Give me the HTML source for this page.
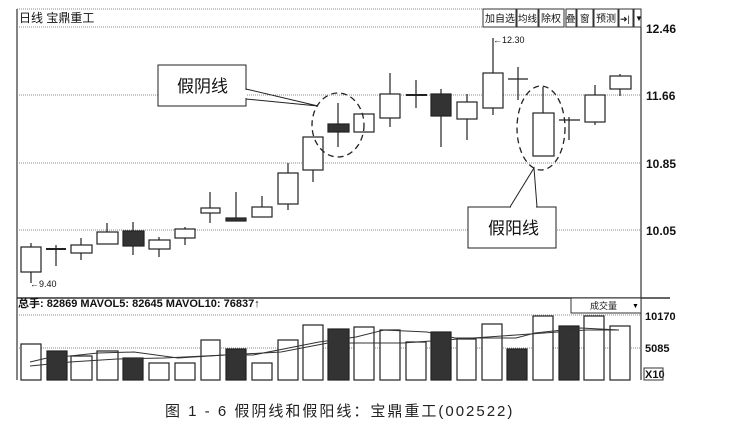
<!DOCTYPE html>
<html><head><meta charset="utf-8"><style>
body{margin:0;background:#fff;}
svg{display:block;font-family:"Liberation Sans","Noto Sans CJK SC",sans-serif;}
</style></head><body>
<svg width="735" height="433" viewBox="0 0 735 433" xmlns="http://www.w3.org/2000/svg">
<!-- frame -->
<g stroke="#333" fill="none">
<line x1="17" y1="9" x2="17" y2="380" stroke-width="1.2"/>
<line x1="641" y1="27" x2="641" y2="380" stroke-width="1.2"/>
<line x1="17" y1="298" x2="670" y2="298" stroke-width="1.5"/>
</g>
<g stroke="#888" stroke-dasharray="1,1" stroke-width="1">
<line x1="17" y1="9" x2="483" y2="9"/>
<line x1="17" y1="27" x2="641" y2="27"/>
<line x1="17" y1="95" x2="641" y2="95"/>
<line x1="17" y1="163" x2="641" y2="163"/>
<line x1="17" y1="230" x2="641" y2="230"/>
<line x1="17" y1="315" x2="641" y2="315"/>
<line x1="17" y1="348" x2="641" y2="348"/>
</g>
<text x="19" y="22" font-size="12" fill="#111">日线  宝鼎重工</text>
<!-- toolbar -->
<g stroke="#333" fill="#fff" stroke-width="1">
<rect x="483" y="9" width="33" height="18"/><rect x="517" y="9" width="21" height="18"/>
<rect x="539" y="9" width="25" height="18"/><rect x="566" y="9" width="10" height="18"/>
<rect x="577" y="9" width="16" height="18"/><rect x="594" y="9" width="24" height="18"/>
<rect x="619" y="9" width="14" height="18"/><rect x="634" y="9" width="7" height="18"/>
</g>
<g font-size="10" fill="#111">
<text x="485" y="22">加自选</text><text x="518" y="22" font-size="9.5">均线</text>
<text x="541" y="22">除权</text><text x="566" y="22" font-size="9.5">叠</text>
<text x="580" y="22" font-size="9.5">窗</text><text x="596" y="22">预测</text>
<text x="620" y="22" font-size="9">➜|</text><text x="635" y="21" font-size="8">▼</text>
</g>
<g font-size="12" font-weight="bold" fill="#111">
<text x="646" y="33">12.46</text><text x="646" y="100">11.66</text>
<text x="646" y="168">10.85</text><text x="646" y="235">10.05</text>
</g>
<!-- candles -->
<g stroke="#222" stroke-width="1.2" fill="#fff">
<line x1="31" y1="243" x2="31" y2="283"/><rect x="21" y="247" width="20" height="25"/>
<line x1="56" y1="245" x2="56" y2="266"/><line x1="46" y1="249" x2="66" y2="249" stroke-width="2"/>
<line x1="81" y1="238" x2="81" y2="260"/><rect x="71" y="245" width="21" height="8"/>
<line x1="107" y1="223" x2="107" y2="232"/><rect x="97" y="232" width="21" height="12"/>
<line x1="133" y1="222" x2="133" y2="255"/><rect x="123" y="231" width="21" height="15" fill="#333"/>
<line x1="159" y1="237" x2="159" y2="257"/><rect x="149" y="240" width="21" height="9"/>
<line x1="185" y1="227" x2="185" y2="245"/><rect x="175" y="229" width="20" height="9"/>
<line x1="210" y1="192" x2="210" y2="223"/><rect x="201" y="208" width="19" height="5"/>
<line x1="236" y1="192" x2="236" y2="221"/><rect x="226" y="218" width="20" height="3" fill="#333"/>
<line x1="262" y1="196" x2="262" y2="207"/><rect x="252" y="207" width="20" height="10"/>
<line x1="288" y1="163" x2="288" y2="210"/><rect x="278" y="173" width="20" height="31"/>
<line x1="313" y1="170" x2="313" y2="182"/><rect x="303" y="137" width="20" height="33"/>
<line x1="338" y1="103" x2="338" y2="147"/><rect x="328" y="124" width="21" height="8" fill="#333"/>
<rect x="354" y="114" width="20" height="18"/>
<line x1="390" y1="73" x2="390" y2="127"/><rect x="380" y="94" width="20" height="24"/>
<line x1="416" y1="80" x2="416" y2="108"/><line x1="406" y1="95" x2="427" y2="95" stroke-width="2"/>
<line x1="441" y1="89" x2="441" y2="147"/><rect x="431" y="94" width="20" height="22" fill="#333"/>
<line x1="467" y1="94" x2="467" y2="140"/><rect x="457" y="102" width="20" height="17"/>
<line x1="493" y1="38" x2="493" y2="115"/><rect x="483" y="73" width="20" height="35"/>
<line x1="518" y1="67" x2="518" y2="100"/><line x1="508" y1="79" x2="528" y2="79"/>
<line x1="543" y1="87" x2="543" y2="113"/><rect x="533" y="113" width="21" height="43"/>
<line x1="569" y1="117" x2="569" y2="140"/><line x1="559" y1="120" x2="580" y2="120"/>
<line x1="595" y1="85" x2="595" y2="125"/><rect x="585" y="95" width="20" height="27"/>
<line x1="620" y1="74" x2="620" y2="96"/><rect x="610" y="76" width="21" height="13"/>
</g>
<g font-size="9" fill="#111">
<text x="30" y="287">←9.40</text>
<text x="493" y="43">←12.30</text>
</g>
<!-- ellipses -->
<g fill="none" stroke="#222" stroke-width="1.3" stroke-dasharray="6,4">
<ellipse cx="338" cy="125" rx="26" ry="32"/>
<ellipse cx="541" cy="128" rx="24" ry="42"/>
</g>
<!-- callouts -->
<g stroke="#222" stroke-width="1" fill="#fff">
<polyline points="246,89 318,106 246,99" fill="none"/>
<rect x="158" y="65" width="88" height="41"/>
<polyline points="510,207 534,168 537,207" fill="none"/>
<rect x="468" y="207" width="88" height="41"/>
</g>
<line x1="246" y1="90" x2="246" y2="98" stroke="#fff" stroke-width="1.5"/>
<line x1="511" y1="207" x2="536" y2="207" stroke="#fff" stroke-width="1.5"/>
<g font-size="17" fill="#111">
<text x="177" y="92">假阴线</text><text x="488" y="234">假阳线</text>
</g>
<!-- volume header -->
<text x="18" y="307" font-size="11" font-weight="bold" fill="#111">总手: 82869  MAVOL5: 82645  MAVOL10: 76837↑</text>
<rect x="571" y="298" width="70" height="15" fill="#fff" stroke="#333"/>
<text x="590" y="309" font-size="9" fill="#111">成交量</text><text x="632" y="308" font-size="7">▼</text>
<g font-size="11" font-weight="bold" fill="#111">
<text x="645" y="320">10170</text><text x="645" y="352">5085</text>
<text x="645" y="378">X10</text>
</g>
<rect x="644" y="368" width="19" height="12" fill="none" stroke="#333"/>
<!-- volume bars -->
<g stroke="#222" stroke-width="1.2" fill="#fff">
<rect x="21" y="344" width="20" height="36"/><rect x="47" y="351" width="20" height="29" fill="#333"/>
<rect x="71" y="356" width="21" height="24"/><rect x="97" y="351" width="21" height="29"/>
<rect x="123" y="358" width="20" height="22" fill="#333"/><rect x="149" y="363" width="20" height="17"/>
<rect x="175" y="363" width="20" height="17"/><rect x="201" y="340" width="19" height="40"/>
<rect x="226" y="349" width="20" height="31" fill="#333"/><rect x="252" y="363" width="20" height="17"/>
<rect x="278" y="340" width="20" height="40"/><rect x="303" y="325" width="20" height="55"/>
<rect x="328" y="329" width="21" height="51" fill="#333"/><rect x="354" y="327" width="20" height="53"/>
<rect x="380" y="330" width="20" height="50"/><rect x="406" y="342" width="20" height="38"/>
<rect x="431" y="332" width="20" height="48" fill="#333"/><rect x="457" y="339" width="19" height="41"/>
<rect x="482" y="324" width="20" height="56"/><rect x="507" y="349" width="20" height="31" fill="#333"/>
<rect x="533" y="316" width="20" height="64"/><rect x="559" y="326" width="20" height="54" fill="#333"/>
<rect x="584" y="316" width="20" height="64"/><rect x="610" y="326" width="20" height="54"/>
</g>
<g fill="none" stroke="#333" stroke-width="1">
<polyline points="30,362 47,358 70,356 98,353 134,352 178,358 225,355 253,355 319,342 356,337 384,330 427,332 455,338 516,338 535,333 581,328 619,330"/>
<polyline points="30,366 70,362 117,359 164,358 225,355 281,352 328,343 403,343 459,339 516,335 586,330 619,330"/>
</g>
<text x="165" y="416" font-size="15" fill="#222" letter-spacing="2">图 1 - 6   假阴线和假阳线：宝鼎重工(002522)</text>
</svg>
</body></html>
